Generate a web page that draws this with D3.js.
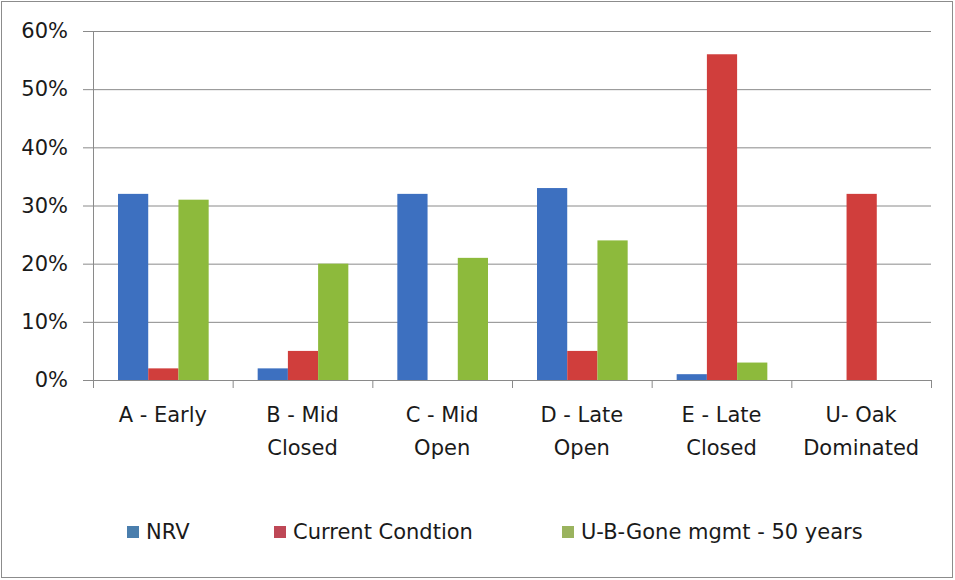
<!DOCTYPE html>
<html lang="en">
<head>
<meta charset="UTF-8">
<title>Structural classes</title>
<script src="https://d3js.org/d3.v7.min.js"></script>
<style>
  body { margin: 0; background: #fff; }
  text { font-family: "DejaVu Sans", "Liberation Sans", sans-serif; fill: #1a1a1a; }
</style>
</head>
<body>
<script>
// chart data
const categories = [["A - Early"], ["B - Mid", "Closed"], ["C - Mid", "Open"], ["D - Late", "Open"], ["E - Late", "Closed"], ["U- Oak", "Dominated"]];
const seriesNames = ["NRV", "Current Condtion", "U-B-Gone mgmt - 50 years"];
const nrv = [0.32, 0.02, 0.32, 0.33, 0.01, 0];
const current = [0.02, 0.05, 0, 0.05, 0.56, 0.32];
const ubGone = [0.31, 0.20, 0.21, 0.24, 0.03, 0];
const yTicks = [0, 0.1, 0.2, 0.3, 0.4, 0.5, 0.6];
const colors = ["#3D70C0", "#D03E3C", "#8DBA3C"];
const legendColors = ["#4A7EAD", "#BE4756", "#9AB35E"];

const W = 955, H = 580;
const margin = { top: 31, left: 93, right: 24, bottom: 200 };
const plotW = W - margin.left - margin.right;
const plotH = H - margin.top - margin.bottom;

const svg = d3.select("body").append("svg")
    .attr("width", W)
    .attr("height", H);

// outer frame
svg.append("rect")
    .attr("x", 1.5).attr("y", 1.5)
    .attr("width", W - 4).attr("height", H - 4)
    .attr("fill", "none").attr("stroke", "#8c8c8c");

const g = svg.append("g").attr("transform", `translate(${margin.left},${margin.top})`);

const x0 = d3.scaleBand().domain(d3.range(categories.length)).range([0, plotW]);
const x1 = d3.scaleBand().domain(d3.range(seriesNames.length))
    .range([25, x0.bandwidth() - 24]);
const y = d3.scaleLinear().domain([0, 0.6]).range([plotH, 0]);

// gridlines + y axis
const yAxis = d3.axisLeft(y).tickValues(yTicks)
    .tickFormat(d3.format(".0%"))
    .tickSize(-plotW).tickPadding(25);
const ya = g.append("g").call(yAxis);
ya.select(".domain").remove();
ya.selectAll(".tick line").attr("stroke", "#8a8a8a").attr("x1", -10);
ya.selectAll(".tick text").attr("font-size", 21).style("fill", "#1a1a1a")
    .style("font-family", "'DejaVu Sans', sans-serif");

// vertical axis line
g.append("line").attr("x1", 0.5).attr("x2", 0.5).attr("y1", 0).attr("y2", plotH)
    .attr("stroke", "#8a8a8a");

// bars
const all = [nrv, current, ubGone];
const groups = g.selectAll(".grp").data(categories).enter().append("g")
    .attr("transform", (d, i) => `translate(${x0(i)},0)`);
groups.selectAll("rect")
    .data((d, i) => all.map((s, k) => ({ k, v: s[i] })))
    .enter().append("rect")
    .attr("x", d => x1(d.k))
    .attr("width", x1.bandwidth())
    .attr("y", d => y(d.v))
    .attr("height", d => plotH - y(d.v))
    .attr("fill", d => colors[d.k]);

// x axis
const xa = g.append("g").attr("transform", `translate(0,${plotH})`);
xa.append("line").attr("x1", 0).attr("x2", plotW).attr("y1", 0.5).attr("y2", 0.5)
    .attr("stroke", "#8a8a8a");
xa.selectAll(".xt").data(d3.range(categories.length + 1)).enter().append("line")
    .attr("x1", i => i * x0.step() + 0.5).attr("x2", i => i * x0.step() + 0.5)
    .attr("y1", 0).attr("y2", 8).attr("stroke", "#8a8a8a");
const lbl = xa.selectAll(".xl").data(categories).enter().append("text")
    .attr("text-anchor", "middle")
    .attr("font-size", 21)
    .attr("x", (d, i) => x0(i) + x0.bandwidth() / 2);
lbl.selectAll("tspan").data(d => d).enter().append("tspan")
    .attr("x", function () { return d3.select(this.parentNode).attr("x"); })
    .attr("y", (d, j) => 42 + j * 33)
    .text(d => d);

// legend
const legX = [127, 274, 562];
const leg = svg.append("g").attr("transform", "translate(0,532)");
seriesNames.forEach((name, k) => {
    leg.append("rect").attr("x", legX[k]).attr("y", -6).attr("width", 12).attr("height", 12)
        .attr("fill", legendColors[k]);
    leg.append("text").attr("x", legX[k] + 19).attr("y", 7).attr("font-size", 21).text(name);
});
</script>
</body>
</html>
